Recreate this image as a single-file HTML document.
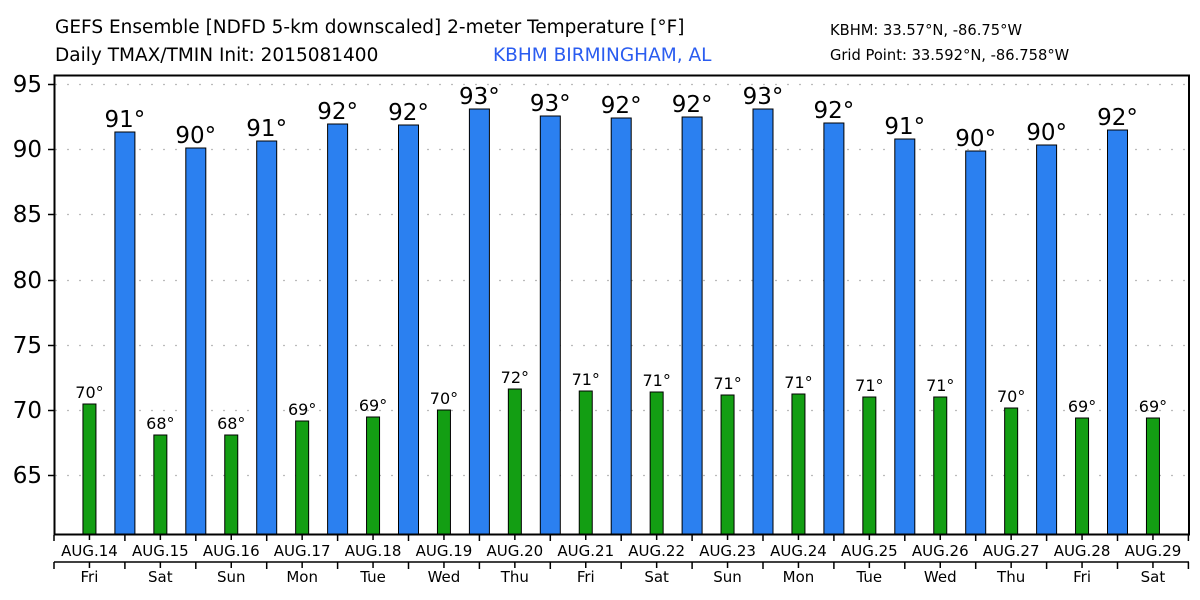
<!DOCTYPE html><html><head><style>body{margin:0;background:#fff}svg{display:block}</style></head><body>
<svg width="1200" height="600" xmlns="http://www.w3.org/2000/svg" font-family="DejaVu Sans, Liberation Sans, sans-serif">
<text x="55" y="33" font-size="18.5">GEFS Ensemble [NDFD 5-km downscaled] 2-meter Temperature [°F]</text>
<text x="55" y="61" font-size="18.5">Daily TMAX/TMIN Init: 2015081400</text>
<text x="493" y="61" font-size="18.5" fill="#2a5cf0">KBHM BIRMINGHAM, AL</text>
<text x="830" y="35" font-size="14.7">KBHM: 33.57°N, -86.75°W</text>
<text x="830" y="60" font-size="14.7">Grid Point: 33.592°N, -86.758°W</text>
<g stroke="#bbb" stroke-dasharray="2,10" stroke-width="1.2">
<line x1="55" x2="1189" y1="84.5" y2="84.5"/><line x1="55" x2="1189" y1="149.5" y2="149.5"/><line x1="55" x2="1189" y1="214.5" y2="214.5"/><line x1="55" x2="1189" y1="280.5" y2="280.5"/><line x1="55" x2="1189" y1="345.5" y2="345.5"/><line x1="55" x2="1189" y1="410.5" y2="410.5"/><line x1="55" x2="1189" y1="475.5" y2="475.5"/>
</g>
<g font-size="23" text-anchor="end">
<text x="42" y="92">95</text><text x="42" y="157">90</text><text x="42" y="222">85</text><text x="42" y="288">80</text><text x="42" y="353">75</text><text x="42" y="418">70</text><text x="42" y="483">65</text>
</g>
<g stroke="#000" stroke-width="1.5">
<line x1="48" x2="54" y1="84.5" y2="84.5"/><line x1="48" x2="54" y1="149.5" y2="149.5"/><line x1="48" x2="54" y1="214.5" y2="214.5"/><line x1="48" x2="54" y1="280.5" y2="280.5"/><line x1="48" x2="54" y1="345.5" y2="345.5"/><line x1="48" x2="54" y1="410.5" y2="410.5"/><line x1="48" x2="54" y1="475.5" y2="475.5"/>
</g>
<g id="bars" stroke="#000" stroke-width="1"></g>
<g id="lbl"></g>
<rect x="54.5" y="75.5" width="1134.5" height="459" fill="none" stroke="#000" stroke-width="2"/>
<g id="ax" stroke="#000" stroke-width="1.5"></g>
<g id="axt" font-size="15" text-anchor="middle"></g>
</svg>
<script>
var ns="http://www.w3.org/2000/svg";
function el(p,t,a,tx){var e=document.createElementNS(ns,t);for(var k in a)e.setAttribute(k,a[k]);if(tx)e.textContent=tx;document.getElementById(p).appendChild(e);}
var W=70.9,L=54,B=534;
var bv=[132,148,141,124,125,109,116,118,117,109,123,139,151,145,130];
var bl=[91,90,91,92,92,93,93,92,92,93,92,91,90,90,92];
var gv=[404,435,435,421,417,410,389,391,392,395,394,397,397,408,418,418];
var gl=[70,68,68,69,69,70,72,71,71,71,71,71,71,70,69,69];
for(var i=0;i<15;i++){var c=L+W*(i+1);el('bars','rect',{x:c-10,y:bv[i],width:20,height:B-bv[i],fill:'#2b80f0'});
el('lbl','text',{x:c,y:bv[i]-5,'font-size':23,'text-anchor':'middle'},bl[i]+'°');}
var days=['Fri','Sat','Sun','Mon','Tue','Wed','Thu','Fri','Sat','Sun','Mon','Tue','Wed','Thu','Fri','Sat'];
for(var i=0;i<16;i++){var c=L+W*(i+0.5);el('bars','rect',{x:c-6.5,y:gv[i],width:13,height:B-gv[i],fill:'#139e13'});
el('lbl','text',{x:c,y:gv[i]-6,'font-size':16,'text-anchor':'middle'},gl[i]+'°');
el('axt','text',{x:c,y:556},'AUG.'+(14+i));el('axt','text',{x:c,y:582},days[i]);
el('ax','line',{x1:c,x2:c,y1:535,y2:540});el('ax','line',{x1:c,x2:c,y1:562,y2:568});}
for(var i=0;i<=16;i++){var x=L+W*i;el('ax','line',{x1:x,x2:x,y1:535,y2:541});el('ax','line',{x1:x,x2:x,y1:562,y2:569});}
el('ax','line',{x1:54,x2:1189,y1:562,y2:562});
</script>
</body></html>
